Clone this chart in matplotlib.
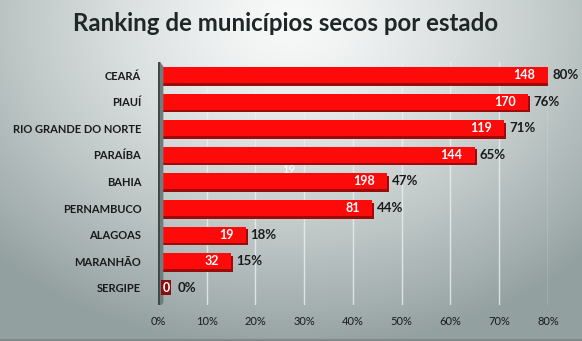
import numpy as np
import matplotlib
matplotlib.use("Agg")
import matplotlib.pyplot as plt
import matplotlib.transforms as mtransforms
from matplotlib.patches import Polygon

plt.rcParams["font.family"] = ["Lato", "DejaVu Sans"]

estados = ["CEARÁ", "PIAUÍ", "RIO GRANDE DO NORTE", "PARAÍBA", "BAHIA",
           "PERNAMBUCO", "ALAGOAS", "MARANHÃO", "SERGIPE"]
percentuais = [80, 76, 71, 65, 47, 44, 18, 15, 0]
municipios = [148, 170, 119, 144, 198, 81, 19, 32, 0]
ticks_x = [0, 10, 20, 30, 40, 50, 60, 70, 80]

fig = plt.figure(figsize=(5.82, 3.41), dpi=100)

# fundo com degradê radial
bg = fig.add_axes([0, 0, 1, 1], zorder=-10)
yy, xx = np.mgrid[0:341, 0:582]
r = np.sqrt(((xx - 290) / 420.0) ** 2 + ((yy - 20) / 330.0) ** 2)
r = np.clip(r, 0, 1)
c0 = np.array([0.975, 0.98, 0.98])
c1 = np.array([0.58, 0.63, 0.63])
img = c0[None, None, :] * (1 - r[..., None] ** 1.3) + c1[None, None, :] * (r[..., None] ** 1.3)
bg.imshow(img, aspect="auto", extent=[0, 1, 0, 1])
bg.axhline(0.004, color="#808a8a", lw=1.5)
bg.axis("off")

ax = fig.add_axes([0.2715, 0.106, 0.670, 0.712])
ax.patch.set_alpha(0)
y = np.arange(len(estados))

# parede lateral (efeito 3D)
wall = Polygon([[0, -0.62], [1.1, -0.32], [1.1, 8.55], [0, 8.85]],
               closed=True, facecolor="#6f7d7d", edgecolor="none", zorder=6)
ax.add_patch(wall)
ax.axvline(0, color="#3c4646", lw=2, zorder=7)

for t in ticks_x[1:]:
    ax.axvline(t, color="#eef0f0", lw=1, alpha=0.8, zorder=0)

# sombra das barras
sombra = mtransforms.offset_copy(ax.transData, fig=fig, x=2, y=-2.5, units="dots")
ax.barh(y, percentuais, height=0.6, color="#9c0a0a", transform=sombra, zorder=3)
ax.barh(y, percentuais, height=0.6, color="#ff0a0a", zorder=4)

for yi, p, m in zip(y, percentuais, municipios):
    if p > 0:
        ax.annotate(str(m), (p, yi), xytext=(-9, 0), textcoords="offset points",
                    ha="right", va="center", color="white",
                    fontsize=9, fontweight="bold", zorder=5)
    else:
        ax.text(1.7, yi, str(m), ha="center", va="center", color="white",
                fontsize=9, fontweight="bold", zorder=8,
                bbox=dict(boxstyle="square,pad=0.12", fc="#8a0c0c", ec="none"))
    ax.annotate(f"{p}%", (max(p, 1.5), yi), xytext=(3.5 if p > 0 else 9, 0),
                textcoords="offset points", ha="left", va="center", color="#1a1a1a",
                fontsize=9.5, fontweight="bold", zorder=5, annotation_clip=False)

ax.text(26.9, 3.55, "19", ha="center", va="center", color="white",
        fontsize=8, fontweight="bold", alpha=0.85, zorder=2)

ax.set_xlim(0, 80)
ax.set_ylim(8.64, -0.49)
ax.set_xticks(ticks_x)
ax.set_xticklabels([f"{t}%" for t in ticks_x], fontsize=8, color="#1a1a1a")
ax.set_yticks(y)
ax.set_yticklabels(estados, fontsize=8, fontweight="bold", color="#1a1a1a")
ax.tick_params(axis="x", length=0, pad=8)
ax.tick_params(axis="y", length=0, pad=12)
for s in ax.spines.values():
    s.set_visible(False)

fig.text(0.49, 0.93, "Ranking de municípios secos por estado", ha="center", va="center",
         fontsize=17.3, fontweight="bold", color="#1e2626")

fig.savefig("out.png", dpi=100)
